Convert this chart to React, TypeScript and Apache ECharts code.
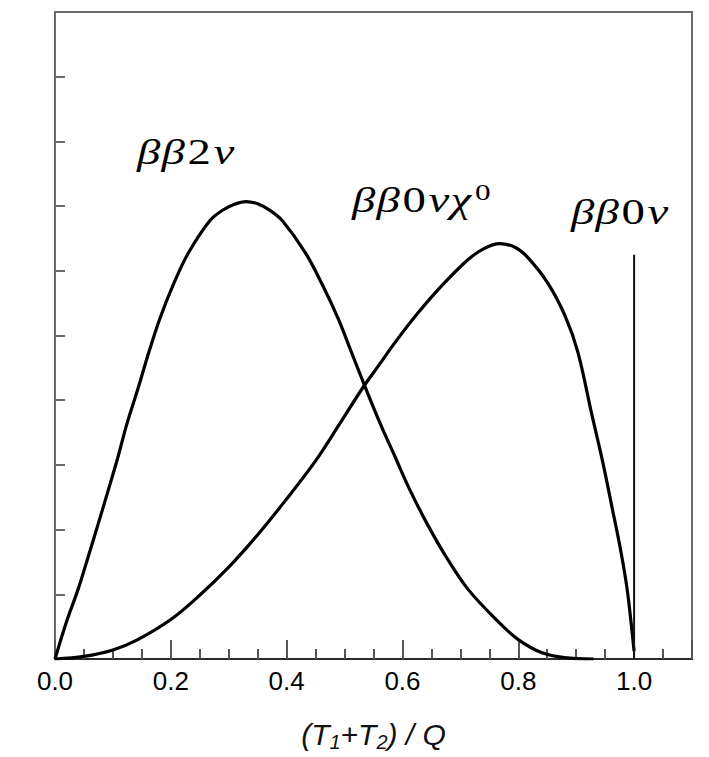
import React, { useEffect, useRef } from "react";
import * as echarts from "echarts";

// Summed electron kinetic energy, in units of the Q-value
const xMin = 0;
const xMax = 1.1;
const xMajorStep = 0.2;
const xMinorSplit = 4;
const yMin = 0;
const yMax = 10;
const yStep = 1;

// Two-neutrino double beta decay spectrum
const twoNeutrino: [number, number][] = [
  [0, 0], [0.02, 0.58], [0.04, 1.08], [0.058, 1.6], [0.075, 2.1], [0.092, 2.61],
  [0.109, 3.13], [0.124, 3.63], [0.144, 4.2], [0.162, 4.74], [0.181, 5.26],
  [0.203, 5.76], [0.23, 6.27], [0.268, 6.78], [0.29, 6.94], [0.31, 7.03],
  [0.33, 7.07], [0.352, 7.03], [0.372, 6.93], [0.392, 6.78], [0.433, 6.27],
  [0.463, 5.76], [0.489, 5.26], [0.512, 4.74], [0.534, 4.24], [0.562, 3.63],
  [0.587, 3.13], [0.613, 2.61], [0.642, 2.1], [0.674, 1.6], [0.713, 1.08],
  [0.765, 0.58], [0.8, 0.3], [0.84, 0.1], [0.88, 0.02], [0.93, 0.0],
];

// Neutrinoless decay with majoron emission
const majoron: [number, number][] = [
  [0, 0], [0.05, 0.04], [0.1, 0.14], [0.143, 0.3], [0.2, 0.61], [0.248, 0.97],
  [0.3, 1.42], [0.35, 1.92], [0.397, 2.44], [0.449, 3.05], [0.492, 3.64],
  [0.532, 4.2], [0.56, 4.55], [0.587, 4.89], [0.627, 5.35], [0.668, 5.77],
  [0.713, 6.17], [0.74, 6.34], [0.768, 6.42], [0.795, 6.36], [0.817, 6.2],
  [0.851, 5.81], [0.881, 5.3], [0.903, 4.74], [0.927, 3.78], [0.946, 3.04],
  [0.962, 2.34], [0.976, 1.72], [0.988, 1.08], [0.997, 0.38], [1.0, 0.12],
];

// Neutrinoless decay: a single line at the endpoint
const zeroNeutrino: [number, number][] = [
  [1.0, 0], [1.0, 6.25],
];

const serif = "'Liberation Serif', 'DejaVu Serif', serif";
const sans = "'Liberation Sans', Arial, sans-serif";

// Italic Greek letters, upright digits, raised superscript
const labelRich = {
  g: {
    fontFamily: serif, fontStyle: "italic", fontSize: 36, lineHeight: 36,
    verticalAlign: "bottom", padding: [0, 1, 0, 0], color: "#111",
  },
  d: {
    fontFamily: serif, fontStyle: "normal", fontSize: 36, lineHeight: 36,
    verticalAlign: "bottom", padding: [0, 2, 0, 1], color: "#111",
  },
  sup: {
    fontFamily: serif, fontStyle: "normal", fontSize: 24, lineHeight: 24,
    verticalAlign: "bottom", padding: [0, 0, 14, 2], color: "#111",
  },
};

export default function App() {
  const ref = useRef<HTMLDivElement>(null);

  useEffect(() => {
    if (!ref.current) return;
    const chart = echarts.init(ref.current, undefined, { renderer: "svg" });

    const curveStyle = { color: "#000", width: 3.2 };

    chart.setOption({
      animation: false,
      backgroundColor: "#fff",
      grid: {
        left: 55,
        top: 12,
        width: 637,
        height: 656,
        show: true,
        borderColor: "#6b6b6b",
        borderWidth: 2,
        backgroundColor: "transparent",
      },
      xAxis: {
        type: "value",
        min: xMin,
        max: xMax,
        interval: xMajorStep,
        axisLine: { show: true, onZero: false, lineStyle: { color: "#2b2b2b", width: 2 } },
        axisTick: { show: true, inside: true, length: 19, lineStyle: { color: "#555", width: 2 } },
        minorTick: { show: true, splitNumber: xMinorSplit, length: 10, lineStyle: { color: "#555", width: 2 } },
        splitLine: { show: false },
        minorSplitLine: { show: false },
        axisLabel: {
          showMaxLabel: false,
          formatter: (v: number) => v.toFixed(1),
          fontSize: 26,
          color: "#000",
          fontFamily: sans,
          margin: 9,
        },
        name: "{m|(T}{s|1}{m|+T}{s|2}{m|) / Q}",
        nameLocation: "middle",
        nameGap: 60,
        nameTextStyle: {
          color: "#111",
          fontFamily: sans,
          fontStyle: "italic",
          fontSize: 30,
          rich: {
            m: { fontFamily: sans, fontStyle: "italic", fontSize: 30, lineHeight: 30, verticalAlign: "top", color: "#111" },
            s: { fontFamily: sans, fontStyle: "italic", fontSize: 20, lineHeight: 20, padding: [13, 0, 0, 0], verticalAlign: "top", color: "#111" },
          },
        },
      },
      yAxis: {
        type: "value",
        min: yMin,
        max: yMax,
        interval: yStep,
        axisLine: { show: true, onZero: false, lineStyle: { color: "#6b6b6b", width: 2 } },
        axisTick: { show: true, inside: true, length: 10, lineStyle: { color: "#6b6b6b", width: 2 } },
        axisLabel: { show: false },
        splitLine: { show: false },
      },
      series: [
        {
          name: "ββ2ν",
          type: "line",
          data: twoNeutrino,
          showSymbol: false,
          smooth: 0.35,
          lineStyle: curveStyle,
          z: 3,
        },
        {
          name: "ββ0νχ0",
          type: "line",
          data: majoron,
          showSymbol: false,
          smooth: 0.35,
          lineStyle: curveStyle,
          z: 3,
        },
        {
          name: "ββ0ν",
          type: "line",
          data: zeroNeutrino,
          showSymbol: false,
          lineStyle: { color: "#111", width: 2 },
          z: 3,
        },
      ],
      graphic: [
        {
          type: "text",
          x: 137,
          y: 134,
          scaleX: 1.3,
          style: { text: "{g|β}{g|β}{d|2}{g|ν}", rich: labelRich, verticalAlign: "top", align: "left" },
        },
        {
          type: "text",
          x: 352,
          y: 182,
          scaleX: 1.3,
          style: { text: "{g|β}{g|β}{d|0}{g|ν}{g|χ}{sup|0}", rich: labelRich, verticalAlign: "top", align: "left" },
        },
        {
          type: "text",
          x: 571,
          y: 194,
          scaleX: 1.3,
          style: { text: "{g|β}{g|β}{d|0}{g|ν}", rich: labelRich, verticalAlign: "top", align: "left" },
        },
      ],
    });

    return () => chart.dispose();
  }, []);

  return (
    <div
      ref={ref}
      style={{ position: "fixed", left: 0, top: 0, width: 709, height: 757, background: "#fff" }}
    />
  );
}
